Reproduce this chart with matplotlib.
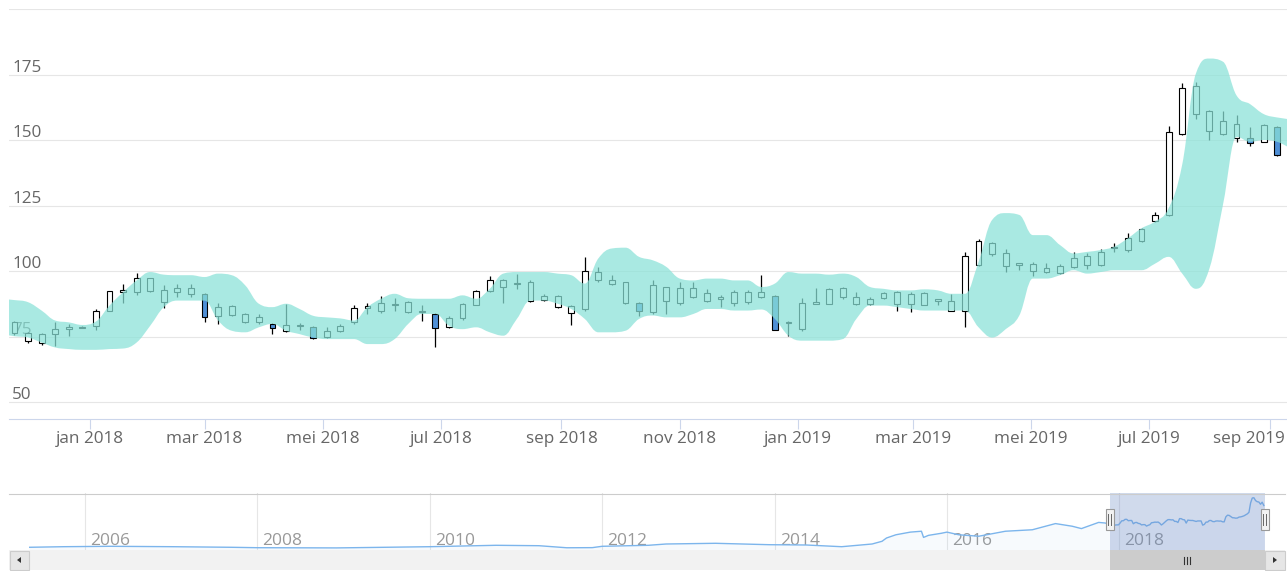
import numpy as np
import matplotlib
matplotlib.use("Agg")
import matplotlib.pyplot as plt
import matplotlib.dates as mdates
from matplotlib.patches import Rectangle, Polygon, PathPatch
from matplotlib.path import Path
from matplotlib.transforms import ScaledTranslation

plt.rcParams['font.family'] = ['Open Sans', 'DejaVu Sans']

W, H = 1287, 571

# weekly candles
first_week = '2017-11-23'
opens = [76.5, 73.5, 72.5, 76, 78, 78.4, 79.2, 85, 92.2, 92, 92.3, 88.2, 92, 91.4, 91.4, 83,
         83.3, 80.5, 80.8, 80, 77.3, 79, 78.6, 74.8, 77.3, 80.5, 86, 85, 87, 84.6, 84.8, 83.5,
         78.8, 82, 87.2, 92.4, 94, 95, 88.8, 89.2, 86.3, 84.1, 85.6, 96.5, 95.3, 87.9, 88, 84.4,
         88.8, 87.9, 90.1, 88.5, 89.5, 87.9, 88.2, 90.1, 90.4, 80.6, 78, 87.6, 87.6, 90.1, 87.6, 87.6,
         89.9, 87.6, 87.6, 87.3, 88.8, 85, 85, 102.3, 106.4, 101.9, 102.5, 100, 99.7, 99.4, 101.7, 102.3,
         102.3, 108.7, 108.1, 111.7, 119, 121.5, 152.5, 160, 153.6, 152.3, 151, 151, 149.5, 155.2]
highs = [81, 76.7, 76.5, 80.5, 79.9, 79, 85.6, 92.6, 95, 99.2, 97.6, 94.9, 95.3, 95.3, 91.6, 88,
         87.2, 84, 83.7, 80.2, 87.6, 80.3, 79, 78.6, 79.8, 87.2, 88, 90.5, 89.7, 88.8, 87, 84,
         82.8, 88, 93, 98.2, 97.2, 99, 96.5, 91.3, 90.8, 87, 105.5, 101.6, 98.5, 95.9, 88.2, 96.8,
         94, 95.9, 95.9, 93.3, 90.8, 92.7, 92.7, 98.5, 91, 81.2, 89.9, 93.6, 93.6, 93.8, 92, 90.2,
         92, 92.3, 92, 92, 89.5, 91.4, 107.4, 112.3, 111.3, 108.5, 103.2, 103.5, 103.3, 102.7, 107.4, 106.8,
         108.5, 110.9, 114.5, 116.4, 122.8, 155.3, 172, 172.2, 161.5, 161.3, 159.7, 155.2, 156.2, 155.5]
lows = [75.5, 72.8, 72, 71.5, 75.1, 78.2, 77.6, 84.8, 88, 91, 92, 85.9, 90.1, 90.1, 80.8, 79.9,
        83, 80.3, 79.9, 76, 77, 77.7, 74, 74.7, 76.7, 79.9, 83.7, 84, 85, 84.2, 81.2, 71,
        78.5, 81.5, 87, 92, 87.9, 93.3, 88.2, 88.5, 86, 79.6, 85, 96, 94.7, 87.5, 83, 83.8,
        83.7, 87, 89.8, 88.2, 86.3, 86.9, 87.6, 89.8, 77.5, 75.1, 77.3, 87.5, 87.4, 89.5, 87.3, 87.3,
        89.6, 85, 84.6, 87, 87, 85, 78.6, 102, 106, 99.7, 100.4, 98.3, 99.4, 99, 101.4, 101,
        102, 107.4, 107.4, 111.3, 118.7, 121, 152, 158, 150, 152, 149.5, 147.8, 149.2, 144]
closes = [80.5, 76.5, 76, 78, 78.6, 78.7, 85, 92.4, 92.8, 97.4, 97.4, 92.7, 93.6, 93.6, 82.4, 86.3,
          86.9, 83.7, 82.7, 78.5, 79.5, 79.4, 74.5, 77.3, 79.2, 85.9, 86.6, 88, 87.6, 88.2, 84.3, 78.2,
          82.3, 87.6, 92.6, 96.5, 96.5, 95.5, 95.9, 90.5, 90.5, 86.7, 100, 99.7, 96.5, 95.9, 84.7, 94.9,
          94, 93.6, 93.6, 91.8, 90.3, 92, 92, 92, 77.7, 80.3, 88, 88.2, 93.3, 93.6, 90.1, 89.5,
          91.7, 92, 91.4, 91.7, 89.1, 88.8, 105.8, 111.5, 110.9, 106.8, 103, 102.6, 101.4, 101.9, 105.1, 105.8,
          107.4, 109.4, 112.6, 116, 121.3, 153.2, 170, 170.8, 161.3, 157.4, 156.4, 148.8, 155.8, 144.4]

# bollinger band, one week before the first candle to one week after the last
band_upper = [89.5, 89, 88.2, 85, 81.2, 80.5, 79.5, 80.8, 86.9, 92, 96.5, 99.7, 98.7, 98.5, 98.5, 97.8,
              99.1, 98.5, 94.6, 87.6, 86.3, 87.6, 85.6, 83, 82.4, 82, 81.2, 86.3, 89.5, 91.4, 89.7, 89.5,
              89.5, 89.5, 90.8, 89.5, 93.3, 99.1, 99.7, 99.7, 99.7, 99.1, 98.5, 95.3, 104.9, 108.7, 109, 105.5,
              104.2, 101.7, 97.2, 96.5, 97.2, 97.2, 96.5, 96.5, 94, 95.3, 99.7, 99.1, 99.1, 98.7, 99.1, 97.8,
              94, 93.3, 92.7, 92.7, 93.1, 92.7, 91.4, 91.4, 103.6, 119.6, 122.2, 121.5, 113.8, 113.8, 110, 106.8,
              107.4, 108.1, 109.4, 112.6, 116.4, 119, 124.1, 140.8, 175.4, 181.2, 180, 167.1, 163.8, 160, 158.7, 158]
band_lower = [76, 75.2, 74.7, 72.8, 70.9, 70.3, 70, 70, 70.3, 70.5, 72.8, 79.2, 86.3, 88.8, 88.8, 88.8,
              81.2, 77.3, 76.7, 78.6, 79.9, 77.3, 76, 74.7, 74.1, 74.1, 74.1, 72.2, 72.2, 74.1, 79.9, 83.7,
              83.7, 79.2, 77.9, 78.6, 76.7, 75.4, 81.8, 88.8, 88.8, 87.6, 85.6, 81.8, 76.7, 76.7, 77.3, 81.8,
              83.1, 82.4, 82.4, 83.7, 85.6, 85.6, 85, 85, 85.4, 81.8, 75.4, 73.5, 73.5, 73.5, 74.1, 81.8,
              86.9, 86.9, 86.3, 85.6, 85, 85, 85, 85, 78.6, 74.7, 77.9, 83.1, 97.2, 97.2, 98.5, 100.4,
              99.1, 99.7, 100.4, 100.4, 100.4, 102.9, 105.5, 99.1, 93.3, 101, 125.4, 151.3, 149.4, 150.1, 149.4, 146.8]

# navigator history before the zoomed range
nav_dates = ['2005-05-08', '2005-10-01', '2006-04-15', '2007-01-10', '2007-09-15', '2008-01-01',
             '2008-11-01', '2008-12-01', '2009-07-01', '2010-01-01', '2010-10-08', '2011-04-08',
             '2011-08-04', '2011-11-20', '2012-01-01', '2012-07-15', '2012-09-28', '2013-04-25',
             '2013-12-10', '2014-05-15', '2014-10-12', '2015-02-18', '2015-04-01', '2015-04-20',
             '2015-05-30', '2015-07-30', '2015-09-15', '2015-09-24', '2015-10-15', '2015-12-08',
             '2016-01-01', '2016-02-20', '2016-05-15', '2016-09-05', '2016-12-28', '2017-04-05',
             '2017-06-15', '2017-07-24', '2017-10-05', '2017-11-01', '2017-11-16']
nav_values = [2.4, 4.4, 5.8, 4.4, 2.4, 1.0, 0.5, 0.3, 2.4, 4.4, 9.2, 7.8,
              0.8, 1.2, 5.8, 9.2, 13.6, 16, 11.2, 10.2, 4.4, 13.6, 22.8, 34,
              45, 54, 57, 36, 43, 50, 54, 45, 40, 57, 62, 83,
              74, 66, 87, 85, 82]

month_ticks = ['2018-01-01', '2018-03-01', '2018-05-01', '2018-07-01', '2018-09-01', '2018-11-01',
               '2019-01-01', '2019-03-01', '2019-05-01', '2019-07-01', '2019-09-01']
month_labels = ['jan 2018', 'mar 2018', 'mei 2018', 'jul 2018', 'sep 2018', 'nov 2018',
                'jan 2019', 'mar 2019', 'mei 2019', 'jul 2019', 'sep 2019']
y_ticks = [50, 75, 100, 125, 150, 175, 200]
nav_years = [2006, 2008, 2010, 2012, 2014, 2016, 2018]


def px_rect(x0, y0, x1, y1):
    return [x0 / W, 1 - y1 / H, (x1 - x0) / W, (y1 - y0) / H]


def dnum(s):
    return mdates.date2num(np.datetime64(s))


def spline_controls(xs, ys, smoothing=1.5):
    # highcharts style spline control points for every point
    n = len(xs)
    lc = [(xs[0], ys[0])]
    rc = [(xs[0], ys[0])]
    den = smoothing + 1
    for j in range(1, n - 1):
        x, y = xs[j], ys[j]
        lx, ly, nx, ny = xs[j - 1], ys[j - 1], xs[j + 1], ys[j + 1]
        lcx = (smoothing * x + lx) / den
        lcy = (smoothing * y + ly) / den
        rcx = (smoothing * x + nx) / den
        rcy = (smoothing * y + ny) / den
        if rcx != lcx:
            corr = (rcy - lcy) * (rcx - x) / (rcx - lcx) + y - rcy
            lcy += corr
            rcy += corr
        if lcy > ly and lcy > y:
            lcy = max(ly, y); rcy = 2 * y - lcy
        elif lcy < ly and lcy < y:
            lcy = min(ly, y); rcy = 2 * y - lcy
        if rcy > ny and rcy > y:
            rcy = max(ny, y); lcy = 2 * y - rcy
        elif rcy < ny and rcy < y:
            rcy = min(ny, y); lcy = 2 * y - rcy
        lc.append((lcx, lcy))
        rc.append((rcx, rcy))
    lc.append((xs[-1], ys[-1]))
    rc.append((xs[-1], ys[-1]))
    return lc, rc


def spline_verts(xs, ys):
    lc, rc = spline_controls(xs, ys)
    verts = [(xs[0], ys[0])]
    for j in range(1, len(xs)):
        verts += [rc[j - 1], lc[j], (xs[j], ys[j])]
    return verts


n = len(opens)
week0 = dnum(first_week)
dates = week0 + 7 * np.arange(n)
band_dates = week0 + 7 * np.arange(-1, n + 1)
o = np.array(opens); c = np.array(closes)
hi = np.array(highs); lo = np.array(lows)

main_left, main_right = dnum('2017-11-20') + 0.2, dnum('2019-09-10')

fig = plt.figure(figsize=(W / 100, H / 100), dpi=100)
ax = fig.add_axes(px_rect(9, 9.3, 1287, 419))
ax.set_xlim(main_left, main_right)
ax.set_ylim(43.6, 200)

# candles
ax.vlines(dates, lo, hi, color='black', lw=0.9, zorder=2)
up = c >= o
body_bottom = np.minimum(o, c)
body_h = np.maximum(np.abs(c - o), 0.5)
ax.bar(dates, body_h, bottom=body_bottom, width=3.0,
       color=np.where(up, '#ffffff', '#4f8fd6'), edgecolor='black', lw=0.8, zorder=3)

# bollinger band on top, drawn as an area spline range
up_v = spline_verts(list(band_dates), band_upper)
low_v = spline_verts(list(band_dates[::-1]), band_lower[::-1])
verts = up_v + low_v + [up_v[0]]
codes = ([Path.MOVETO] + [Path.CURVE4] * (len(up_v) - 1) + [Path.LINETO]
         + [Path.CURVE4] * (len(low_v) - 1) + [Path.CLOSEPOLY])
ax.add_patch(PathPatch(Path(verts, codes), fc=(0.54, 0.886, 0.847), ec='none',
                       alpha=0.73, zorder=4))

ax.set_yticks(y_ticks)
ax.grid(axis='y', color='#e6e6e6', lw=0.8)
ax.set_axisbelow(True)
ax.tick_params(axis='y', length=0, labelleft=False)
for v in y_ticks[:-1]:
    ax.annotate(str(v), xy=(0, v), xycoords=('axes fraction', 'data'), xytext=(3, 3),
                textcoords='offset pixels', ha='left', va='baseline', fontsize=12.3,
                color='#666666', zorder=1)

ax.set_xticks([dnum(t) for t in month_ticks], month_labels)
ax.tick_params(axis='x', length=7.2, width=0.8, color='#ccd6eb', labelcolor='#666666',
               labelsize=12.3, pad=1.2)
last_lbl = ax.get_xticklabels()[-1]
last_lbl.set_transform(last_lbl.get_transform() + ScaledTranslation(-0.21, 0, fig.dpi_scale_trans))
for s in ['top', 'left', 'right']:
    ax.spines[s].set_visible(False)
ax.spines['bottom'].set_color('#ccd6eb')
ax.spines['bottom'].set_linewidth(0.8)

# navigator
nav = fig.add_axes(px_rect(29, 493, 1265, 550))
nav_x = np.concatenate([[dnum(d) for d in nav_dates], dates])
nav_y = np.concatenate([nav_values, closes])
nav.set_xlim(dnum('2005-05-08'), dnum('2019-09-10'))
nav.set_ylim(-6.8, 187)
nav.plot(nav_x, nav_y, color='#7cb5ec', lw=1, zorder=3)
nav.fill_between(nav_x, nav_y, -6.8, color='#7cb5ec', alpha=0.06, lw=0, zorder=2)
for yr in nav_years:
    xv = dnum(f'{yr}-01-01')
    nav.axvline(xv, color='#e6e6e6', lw=0.8, zorder=1)
    nav.annotate(str(yr), xy=(xv, 0), xycoords=('data', 'axes fraction'), xytext=(5, 5),
                 textcoords='offset pixels', ha='left', va='baseline', fontsize=12.5,
                 color='#999999', zorder=1)
nav.axvspan(main_left, main_right, color=(102 / 255, 133 / 255, 194 / 255), alpha=0.3, lw=0, zorder=4)
nav.set_xticks([]); nav.set_yticks([])
for s in nav.spines.values():
    s.set_visible(False)

# navigator chrome: outline, scrollbar, handles
mx0 = nav.transData.transform((main_left, 0))[0]
mx1 = min(nav.transData.transform((main_right, 0))[0], 1264.5)

ov = fig.add_axes([0, 0, 1, 1], zorder=5)
ov.set_xlim(0, W); ov.set_ylim(H, 0); ov.axis('off')
ov.plot([9, 1285], [493.5, 493.5], color='#cccccc', lw=0.8)
ov.add_patch(Rectangle((9, 550), 1276, 20, fc='#f2f2f2', ec='none'))
ov.add_patch(Rectangle((mx0, 550), mx1 - mx0, 20, fc='#cccccc', ec='none'))
mid = (mx0 + mx1) / 2
for dx in (-3, 0, 3):
    ov.plot([mid + dx, mid + dx], [556.5, 563.5], color='#333333', lw=0.8)
ov.add_patch(Rectangle((9.5, 550.5), 19.5, 19.5, fc='#e6e6e6', ec='#cccccc', lw=0.8))
ov.add_patch(Rectangle((1265, 550.5), 20, 19.5, fc='#e6e6e6', ec='#cccccc', lw=0.8))
ov.add_patch(Polygon([[17, 560], [21, 557], [21, 563]], closed=True, fc='#333333', ec='none'))
ov.add_patch(Polygon([[1277, 560], [1273, 557], [1273, 563]], closed=True, fc='#333333', ec='none'))
for hx in (mx0, mx1):
    ov.add_patch(Rectangle((hx - 4, 509), 8, 21, fc='#f2f2f2', ec='#999999', lw=0.8))
    for dx in (-1.5, 1.5):
        ov.plot([hx + dx, hx + dx], [514, 525], color='#666666', lw=0.7)

fig.savefig('out.png', dpi=100)
